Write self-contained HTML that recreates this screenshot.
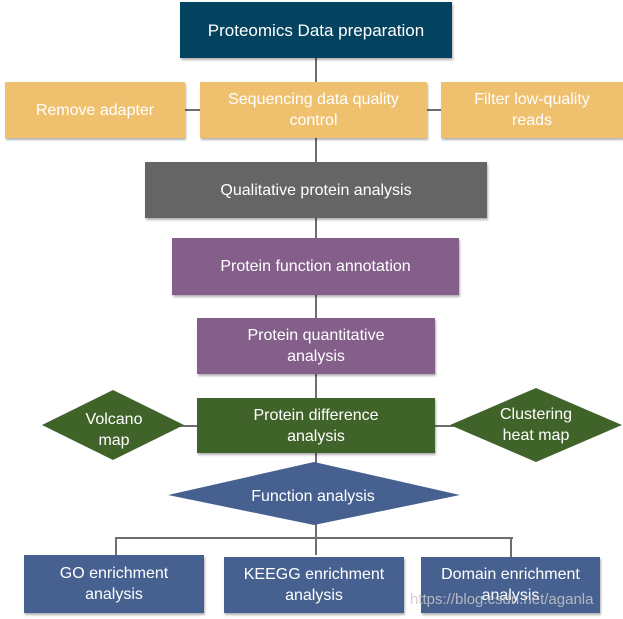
<!DOCTYPE html>
<html><head><meta charset="utf-8"><style>
body{margin:0;width:623px;height:619px;background:#fff;position:relative;overflow:hidden;font-family:"Liberation Sans",sans-serif}
.b{position:absolute;display:flex;align-items:center;justify-content:center;text-align:center;color:#fff;font-size:16px;line-height:21px;box-shadow:1px 2px 2px rgba(0,0,0,.3)}
.l{position:absolute;background:#6e6e6e}
</style></head><body>
<div class="l" style="left:315px;top:58px;width:2px;height:104px"></div>
<div class="l" style="left:315px;top:218px;width:2px;height:180px"></div>
<div class="l" style="left:315px;top:453px;width:2px;height:102px"></div>
<div class="l" style="left:185px;top:109px;width:256px;height:2px"></div>
<div class="l" style="left:180px;top:425px;width:280px;height:2px"></div>
<div class="l" style="left:115px;top:537px;width:398px;height:2px"></div>
<div class="l" style="left:115px;top:537px;width:2px;height:18px"></div>
<div class="l" style="left:510px;top:537px;width:2px;height:20px"></div>
<div class="b" style="left:180px;top:2px;width:272px;height:56px;background:#04435f;font-size:17px">Proteomics Data preparation</div>
<div class="b" style="left:5px;top:82px;width:180px;height:56px;background:#efc16f">Remove adapter</div>
<div class="b" style="left:200px;top:82px;width:227px;height:56px;background:#efc16f">Sequencing data quality<br>control</div>
<div class="b" style="left:441px;top:82px;width:182px;height:56px;background:#efc16f">Filter low-quality<br>reads</div>
<div class="b" style="left:145px;top:162px;width:342px;height:56px;background:#656565">Qualitative protein analysis</div>
<div class="b" style="left:172px;top:238px;width:287px;height:57px;background:#835f8a">Protein function annotation</div>
<div class="b" style="left:197px;top:318px;width:238px;height:56px;background:#835f8a">Protein quantitative<br>analysis</div>
<div class="b" style="left:197px;top:398px;width:238px;height:55px;background:#40632a">Protein difference<br>analysis</div>
<svg style="position:absolute;left:0;top:0" width="623" height="619">
<polygon points="113,390 184,425 113,460 42,425" fill="#40632a"/>
<polygon points="536,388 622,425 536,462 450,425" fill="#40632a"/>
<polygon points="314,462 460,495 314,525 168,495" fill="#466190"/>
<g fill="#fff" font-family="Liberation Sans,sans-serif" font-size="16" text-anchor="middle">
<text x="114" y="424">Volcano</text><text x="114" y="445">map</text>
<text x="536" y="419">Clustering</text><text x="536" y="440">heat map</text>
<text x="313" y="501">Function analysis</text>
</g></svg>
<div class="b" style="left:24px;top:555px;width:180px;height:58px;background:#466190">GO enrichment<br>analysis</div>
<div class="b" style="left:224px;top:557px;width:180px;height:56px;background:#466190">KEEGG enrichment<br>analysis</div>
<div class="b" style="left:421px;top:557px;width:179px;height:56px;background:#466190">Domain enrichment<br>analysis</div>
<div style="position:absolute;left:410px;top:591px;font-size:15px;color:rgba(200,200,200,.85)">https://blog.csdn.net/aganla</div>
</body></html>
